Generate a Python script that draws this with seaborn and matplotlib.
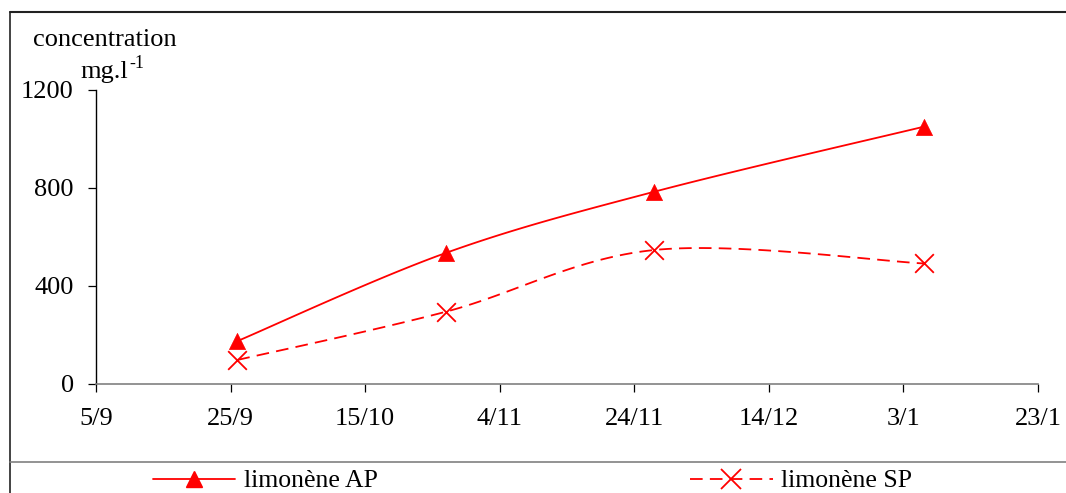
import numpy as np
import pandas as pd
import matplotlib
matplotlib.use("Agg")
import matplotlib.pyplot as plt
import seaborn as sns
from matplotlib.lines import Line2D

# ---- data ----
sample_days = [21, 52, 83, 123]          # days after 5/9
limonene_ap = [175, 535, 785, 1050]      # mg/l
limonene_sp = [98, 295, 547, 492]        # mg/l
x_ticks = [0, 20, 40, 60, 80, 100, 120, 140]
x_tick_labels = ["5/9", "25/9", "15/10", "4/11", "24/11", "14/12", "3/1", "23/1"]
y_ticks = [0, 400, 800, 1200]
series_names = ["limonène AP", "limonène SP"]

sns.set_theme(style="white")
plt.rcParams["font.family"] = ["Liberation Serif", "DejaVu Serif"]
plt.rcParams["text.color"] = "black"
plt.rcParams["xtick.color"] = "black"
plt.rcParams["ytick.color"] = "black"
plt.rcParams["axes.labelcolor"] = "black"

W, H = 1066, 493
fig = plt.figure(figsize=(W / 100, H / 100), dpi=100)
ax = fig.add_axes([96 / W, 1 - 384 / H, (1038 - 96) / W, (384 - 90) / H])

XMIN, XMAX, YMIN, YMAX = 0, 140, 0, 1200
px_x = (1038 - 96) / (XMAX - XMIN)
px_y = (384 - 90) / (YMAX - YMIN)


def smooth(xs, ys, n=40):
    """Excel-like smoothed line (Catmull-Rom Bezier in screen space)."""
    P = np.column_stack([np.asarray(xs, float) * px_x, np.asarray(ys, float) * px_y])
    out = []
    m = len(P)
    for i in range(m - 1):
        p0 = P[i - 1] if i > 0 else P[i]
        p1, p2 = P[i], P[i + 1]
        p3 = P[i + 2] if i + 2 < m else P[i + 1]
        c1 = p1 + (p2 - p0) / 6
        c2 = p2 - (p3 - p1) / 6
        t = np.linspace(0, 1, n)[:, None]
        seg = ((1 - t) ** 3) * p1 + 3 * ((1 - t) ** 2) * t * c1 + 3 * (1 - t) * t ** 2 * c2 + t ** 3 * p2
        out.append(seg if i == 0 else seg[1:])
    S = np.vstack(out)
    return S[:, 0] / px_x, S[:, 1] / px_y


red = "#FF0000"
xa, ya = smooth(sample_days, limonene_ap)
xs_, ys_ = smooth(sample_days, limonene_sp)

sns.lineplot(x=xa, y=ya, sort=False, estimator=None, ax=ax, color=red, linewidth=1.3)
sns.lineplot(x=xs_, y=ys_, sort=False, estimator=None, ax=ax, color=red, linewidth=1.3)
ax.lines[-1].set_dashes([7, 4])
sns.scatterplot(x=sample_days, y=limonene_ap, ax=ax, marker="^", s=135, color=red,
                edgecolor=red, linewidth=0.5, zorder=5)
sns.scatterplot(x=sample_days, y=limonene_sp, ax=ax, marker="x", s=180, color=red,
                linewidth=1.3, zorder=5)

ax.set_xlim(XMIN, XMAX)
ax.set_ylim(YMIN, YMAX)
ax.set_xticks(x_ticks)
ax.set_xticklabels(x_tick_labels)
ax.set_yticks(y_ticks)
ax.set_xlabel("")
ax.set_ylabel("")
for s in ["top", "right"]:
    ax.spines[s].set_visible(False)
ax.spines["left"].set_color("black")
ax.spines["left"].set_linewidth(1.0)
ax.spines["bottom"].set_color("#808080")
ax.spines["bottom"].set_linewidth(1.2)
ax.tick_params(axis="x", direction="out", length=6, width=0.9, color="black",
               labelcolor="black", pad=11, labelsize=19, bottom=True)
ax.tick_params(axis="y", direction="out", length=6, width=0.9, color="black",
               labelcolor="black", pad=10, labelsize=19, left=True)
if ax.get_legend():
    ax.get_legend().remove()

# axis title texts
fig.text(33 / W, 1 - 40 / H, "concentration", fontsize=19, ha="left", va="center",
         color="black")
fig.text(80 / W, 1 - 72 / H, "mg.l", fontsize=19, ha="left", va="center", color="black")
fig.text(129 / W, 1 - 63 / H, "-1", fontsize=13, ha="left", va="center", color="black")

# frame lines
fig.add_artist(Line2D([10 / W, 1], [1 - 12 / H, 1 - 12 / H], color="#222222", lw=1.5,
                      transform=fig.transFigure))
fig.add_artist(Line2D([10 / W, 10 / W], [1 - 12 / H, 0], color="#222222", lw=1.2,
                      transform=fig.transFigure))
fig.add_artist(Line2D([10 / W, 1], [1 - 462 / H, 1 - 462 / H], color="#808080", lw=1.2,
                      transform=fig.transFigure))

# legend
h_ap = Line2D([], [], color=red, lw=1.3, marker="^", markersize=11)
h_sp = Line2D([], [], color=red, lw=1.3, marker="x", markersize=14, markeredgewidth=1.3,
              dashes=[7, 4])
leg = fig.legend([h_ap, h_sp], series_names, loc="center left",
                 bbox_to_anchor=(153 / W, 1 - 481 / H), ncol=2, frameon=False,
                 fontsize=18.5, handlelength=3.2, handletextpad=0.35, columnspacing=12.15,
                 borderpad=0, borderaxespad=0)
for t in leg.get_texts():
    t.set_color("black")

fig.savefig("out.png", dpi=100)
